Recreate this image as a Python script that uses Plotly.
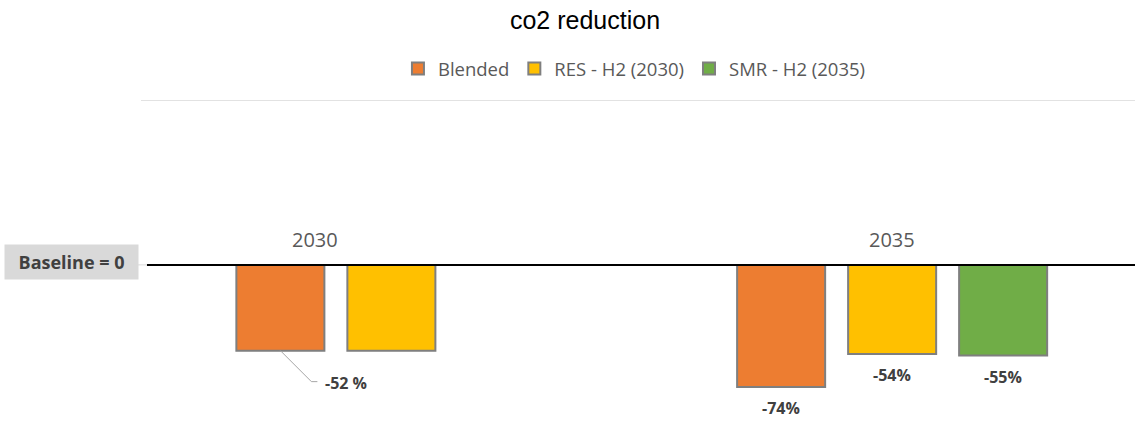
import plotly.graph_objects as go

# ---- data -------------------------------------------------------------
title_text = "co2 reduction"
years = ["2030", "2035"]
series_names = ["Blended", "RES - H2 (2030)", "SMR - H2 (2035)"]
blended = [-52, -74]
res_h2 = [-52, -54]
smr_h2 = [None, -55]
blended_labels = ["-52 %", "-74%"]
res_h2_labels = [None, "-54%"]
smr_h2_labels = [None, "-55%"]
baseline_text = "Baseline = 0"

# ---- styling ----------------------------------------------------------
colors = ["#ED7D31", "#FFC000", "#70AD47"]
outline = "#7F7F7F"
body_font = "Open Sans"
bargap = 0.335
bargroupgap = 0.207
slot = (1 - bargap) / 3  # width of one bar slot inside a group (category units)

values = [blended, res_h2, smr_h2]
labels = [blended_labels, res_h2_labels, smr_h2_labels]

fig = go.Figure()
for name, vals, col in zip(series_names, values, colors):
    fig.add_trace(go.Bar(
        name=name, x=years, y=vals,
        marker=dict(color=col, line=dict(color=outline, width=2)),
        hoverinfo="skip",
    ))

annotations = []
shapes = []

# value labels under the bars
for i, (vals, labs) in enumerate(zip(values, labels)):
    for j, (v, lab) in enumerate(zip(vals, labs)):
        if lab is None or v is None:
            continue
        xc = j + (i - 1) * slot
        if j == 0:
            # call-out label with a leader line
            shapes.append(dict(
                type="path", xref="x", yref="y",
                xsizemode="pixel", ysizemode="pixel",
                xanchor=xc, yanchor=v,
                path="M0,0 L31,-31 L37,-31",
                line=dict(color="#A6A6A6", width=1),
            ))
            annotations.append(dict(
                x=xc, y=v, xref="x", yref="y", text=f"<b>{lab}</b>",
                showarrow=False, xanchor="left", yanchor="middle",
                xshift=43, yshift=-32,
                font=dict(family=body_font, size=16, color="#404040"),
            ))
        else:
            annotations.append(dict(
                x=xc, y=v, xref="x", yref="y", text=f"<b>{lab}</b>",
                showarrow=False, xanchor="center", yanchor="middle",
                yshift=-21,
                font=dict(family=body_font, size=16, color="#404040"),
            ))

# year captions above the baseline
year_shift = [-76, 0]
for j, yr in enumerate(years):
    annotations.append(dict(
        x=j, y=15.5, xref="x", yref="y", text=yr, showarrow=False,
        xanchor="center", yanchor="middle", xshift=year_shift[j],
        font=dict(family=body_font, size=20, color="#595959"),
    ))

# baseline tag on the left
annotations.append(dict(
    x=-0.0699, y=0, xref="paper", yref="y", text=f"<b>{baseline_text}</b>",
    showarrow=False, xanchor="center", yanchor="middle", yshift=3,
    width=133, height=34, borderpad=0, bgcolor="#D9D9D9",
    font=dict(family=body_font, size=18, color="#404040"),
))

# baseline and top rule
shapes += [
    dict(type="line", xref="paper", yref="y", x0=0.006, x1=1, y0=0, y1=0,
         line=dict(color="black", width=2)),
    dict(type="line", xref="paper", yref="y", x0=-0.003, x1=0.006, y0=0, y1=0,
         line=dict(color="#D9D9D9", width=1)),
    dict(type="line", xref="paper", yref="y", x0=0, x1=1, y0=100, y1=100,
         line=dict(color="#D9D9D9", width=1.5)),
]

fig.update_layout(
    width=1135, height=428,
    margin=dict(l=141, r=0, t=100, b=18),
    paper_bgcolor="white", plot_bgcolor="white",
    barmode="group", bargap=bargap, bargroupgap=bargroupgap,
    title=dict(
        text=title_text, x=585 / 1135, y=1 - 20 / 428,
        xref="container", yref="container",
        xanchor="center", yanchor="middle",
        font=dict(family="Liberation Sans", size=25, color="black"),
    ),
    legend=dict(
        orientation="h", x=0.2585, y=1.1, xanchor="left", yanchor="middle",
        font=dict(family=body_font, size=18.5, color="#595959"),
        itemwidth=30, traceorder="normal", bgcolor="rgba(0,0,0,0)",
    ),
    xaxis=dict(type="category", range=[-0.5, 1.485], showticklabels=False,
               showgrid=False, zeroline=False, showline=False, ticks=""),
    yaxis=dict(range=[-88, 100], showticklabels=False, showgrid=False,
               zeroline=False, showline=False, ticks=""),
    annotations=annotations,
    shapes=shapes,
    showlegend=True,
)

fig.write_html("out.html")
